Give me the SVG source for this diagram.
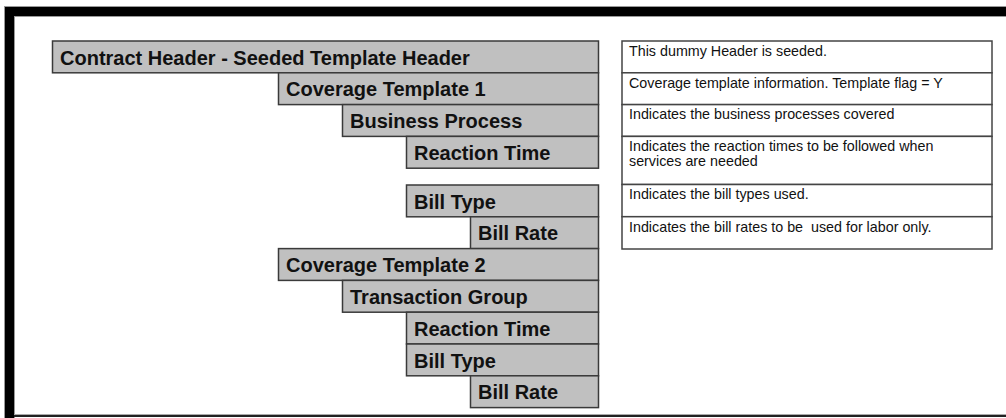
<svg xmlns="http://www.w3.org/2000/svg" width="1006" height="418" viewBox="0 0 1006 418">
<style>
.n rect{fill:#c0c0c0;stroke:#3a3a3a;stroke-width:1.5}
.n text{font-family:"Liberation Sans",Arial,sans-serif;font-weight:bold;font-size:20px;fill:#111}
.d rect{fill:#fff;stroke:#444;stroke-width:1.5}
.d text{font-family:"Liberation Sans",Arial,sans-serif;font-size:14.3px;fill:#111;white-space:pre}
</style>
<rect x="0" y="0" width="1006" height="418" fill="#fff"/>
<g id="frame">
<rect x="4" y="6" width="1002" height="11" fill="#999"/>
<rect x="4" y="6" width="11" height="412" fill="#999"/>
<rect x="5" y="7" width="1001" height="9" fill="#000"/>
<rect x="5" y="7" width="9" height="411" fill="#000"/>
<rect x="14" y="415" width="992" height="2" fill="#222"/>
<rect x="14" y="414" width="992" height="1" fill="#aaa"/>
</g>
<g id="connectors"></g>
<g id="n1" class="n"><rect x="52.5" y="41" width="546" height="31.8"/><text x="60" y="64.5">Contract Header - Seeded Template Header</text></g>
<g id="n2" class="n"><rect x="278.5" y="72.8" width="320" height="31.8"/><text x="286" y="96.3">Coverage Template 1</text></g>
<g id="n3" class="n"><rect x="342.5" y="104.6" width="256" height="31.8"/><text x="350" y="128.1">Business Process</text></g>
<g id="n4" class="n"><rect x="406.5" y="136.4" width="192" height="31.8"/><text x="414" y="159.9">Reaction Time</text></g>
<g id="n5" class="n"><rect x="406.5" y="185" width="192" height="31.8"/><text x="414" y="208.5">Bill Type</text></g>
<g id="n6" class="n"><rect x="470.5" y="216.8" width="128" height="31.8"/><text x="478" y="240.3">Bill Rate</text></g>
<g id="n7" class="n"><rect x="278.5" y="248.6" width="320" height="31.8"/><text x="286" y="272.1">Coverage Template 2</text></g>
<g id="n8" class="n"><rect x="342.5" y="280.4" width="256" height="31.8"/><text x="350" y="303.9">Transaction Group</text></g>
<g id="n9" class="n"><rect x="406.5" y="312.2" width="192" height="31.8"/><text x="414" y="335.7">Reaction Time</text></g>
<g id="n10" class="n"><rect x="406.5" y="344" width="192" height="31.8"/><text x="414" y="367.5">Bill Type</text></g>
<g id="n11" class="n"><rect x="470.5" y="375.8" width="128" height="31.8"/><text x="478" y="399.3">Bill Rate</text></g>
<g id="d1" class="d"><rect x="622" y="41" width="370" height="31.8"/><text x="629" y="55.8">This dummy Header is seeded.</text></g>
<g id="d2" class="d"><rect x="622" y="72.8" width="370" height="31.8"/><text x="629" y="87.6">Coverage template information. Template flag = Y</text></g>
<g id="d3" class="d"><rect x="622" y="104.6" width="370" height="31.8"/><text x="629" y="119.4">Indicates the business processes covered</text></g>
<g id="d4" class="d"><rect x="622" y="136.4" width="370" height="48.1"/><text x="629" y="151.2">Indicates the reaction times to be followed when</text><text x="629" y="166.2">services are needed</text></g>
<g id="d5" class="d"><rect x="622" y="184.5" width="370" height="32.2"/><text x="629" y="199.3">Indicates the bill types used.</text></g>
<g id="d6" class="d"><rect x="622" y="216.7" width="370" height="32.3"/><text x="629" y="231.5" xml:space="preserve">Indicates the bill rates to be  used for labor only.</text></g>
</svg>
